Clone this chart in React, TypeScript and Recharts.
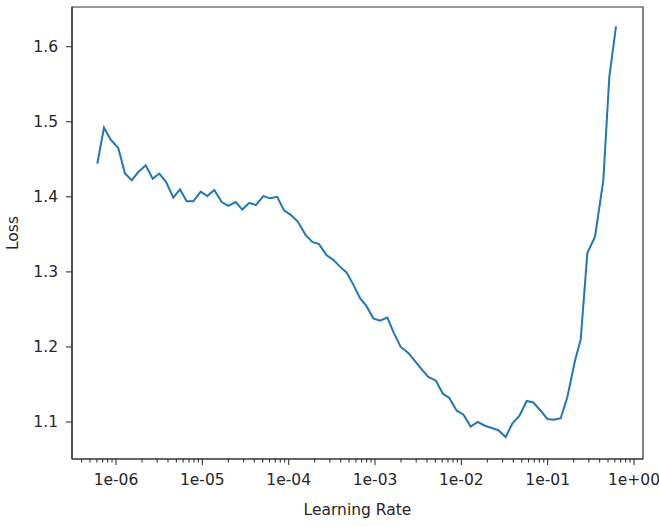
import React from 'react';
import { LineChart, Line, XAxis, YAxis, Label, ReferenceArea } from 'recharts';

// learning rates
const lrValues = [
  6.07e-7, 7.26e-7, 8.68e-7, 1.063e-6, 1.271e-6, 1.52e-6, 1.813e-6, 2.208e-6, 2.661e-6, 3.174e-6,
  3.795e-6, 4.61e-6, 5.51e-6, 6.59e-6, 7.86e-6, 9.57e-6, 1.142e-5, 1.376e-5, 1.676e-5, 2.0e-5,
  2.435e-5, 2.904e-5, 3.5e-5, 4.184e-5, 5.085e-5, 6.08e-5, 7.38e-5, 8.83e-5, 1.056e-4, 1.273e-4,
  1.576e-4, 1.878e-4, 2.246e-4, 2.758e-4, 3.29e-4, 3.93e-4, 4.7e-4, 5.61e-4, 6.71e-4, 8.02e-4,
  9.56e-4, 1.143e-3, 1.389e-3, 1.661e-3, 1.986e-3, 2.43e-3, 2.907e-3, 3.476e-3, 4.146e-3, 5.09e-3,
  6.08e-3, 7.26e-3, 8.84e-3, 1.054e-2, 1.284e-2, 1.548e-2, 1.881e-2, 2.248e-2, 2.682e-2, 3.266e-2,
  3.895e-2, 4.695e-2, 5.72e-2, 6.82e-2, 8.31e-2, 9.91e-2, 0.1185, 0.1416, 0.1689, 0.2074,
  0.2414, 0.2879, 0.3535, 0.441, 0.5178, 0.619,
];

const lossValues = [
  1.444, 1.492, 1.476, 1.465, 1.431, 1.422, 1.433, 1.442, 1.424, 1.431,
  1.42, 1.399, 1.41, 1.394, 1.394, 1.407, 1.401, 1.409, 1.393, 1.388,
  1.393, 1.383, 1.392, 1.389, 1.401, 1.398, 1.4, 1.382, 1.376, 1.367,
  1.349, 1.34, 1.337, 1.322, 1.316, 1.307, 1.299, 1.283, 1.265, 1.254,
  1.238, 1.235, 1.239, 1.218, 1.2, 1.192, 1.181, 1.17, 1.16, 1.155,
  1.138, 1.132, 1.115, 1.11, 1.094, 1.1, 1.095, 1.092, 1.089, 1.08,
  1.098, 1.108, 1.128, 1.126, 1.115, 1.104, 1.103, 1.105, 1.133, 1.182,
  1.21, 1.325, 1.347, 1.422, 1.56, 1.627,
];

const majorTicks = [1e-6, 1e-5, 1e-4, 1e-3, 1e-2, 1e-1, 1];
const majorLabels = ['1e-06', '1e-05', '1e-04', '1e-03', '1e-02', '1e-01', '1e+00'];
const minorMultiples = [2, 3, 4, 5, 6, 7, 8, 9];
const yTicks = [1.1, 1.2, 1.3, 1.4, 1.5, 1.6];

const data = lrValues.map((lr, i) => ({ lr, loss: lossValues[i] }));

const xDomain = [3.093e-7, 1.271];
const yDomain = [1.0507, 1.6529];

// minor ticks: 2..9 x each decade that falls inside the axis range
const minorTicks: number[] = [];
[1e-7, ...majorTicks].forEach((d) => {
  minorMultiples.forEach((m) => {
    const v = d * m;
    if (v >= xDomain[0] && v <= xDomain[1]) minorTicks.push(v);
  });
});
const allXTicks = [...majorTicks, ...minorTicks].sort((a, b) => a - b);

const FONT = '"DejaVu Sans", sans-serif';
const INK = '#262626';
const SPINE = '#333';
const X_TICK_SIZE = 7;
const X_TICK_MARGIN = 8;

const XTick = (props: any) => {
  const { x, y, payload } = props;
  const axisY = y - X_TICK_SIZE - X_TICK_MARGIN;
  const idx = majorTicks.findIndex((t) => Math.abs(Math.log10(t) - Math.log10(payload.value)) < 1e-6);
  const major = idx >= 0;
  return (
    <g>
      <line x1={x} x2={x} y1={axisY} y2={axisY + (major ? 6 : 3.5)} stroke={SPINE} strokeWidth={1.1} />
      {major && (
        <text x={x} y={y} dy="0.71em" textAnchor="middle" fill={INK} fontSize={15.5} fontFamily={FONT}>
          {majorLabels[idx]}
        </text>
      )}
    </g>
  );
};

const App: React.FC = () => (
  <div style={{ position: 'absolute', left: 0, top: 0, width: 659, height: 526, background: '#fff' }}>
    <LineChart width={659} height={526} data={data} margin={{ top: 7, right: 16, bottom: 7, left: 12 }}>
      <XAxis
        dataKey="lr"
        type="number"
        scale="log"
        domain={xDomain}
        allowDataOverflow
        ticks={allXTicks}
        interval={0}
        tick={<XTick />}
        tickLine={false}
        tickSize={X_TICK_SIZE}
        tickMargin={X_TICK_MARGIN}
        height={60}
        axisLine={{ stroke: SPINE, strokeWidth: 1.2 }}
      >
        <Label
          value="Learning Rate"
          position="insideBottom"
          offset={4}
          style={{ fill: INK, fontSize: 15.5, fontFamily: FONT }}
        />
      </XAxis>
      <YAxis
        type="number"
        domain={yDomain}
        allowDataOverflow
        ticks={yTicks}
        interval={0}
        width={60}
        tickSize={6}
        tickMargin={8}
        tickFormatter={(v: number) => v.toFixed(1)}
        tick={{ fill: INK, fontSize: 15.5, fontFamily: FONT }}
        tickLine={{ stroke: SPINE, strokeWidth: 1.1 }}
        axisLine={{ stroke: SPINE, strokeWidth: 1.2 }}
      >
        <Label
          value="Loss"
          angle={-90}
          position="insideLeft"
          offset={0}
          style={{ fill: INK, fontSize: 15.5, fontFamily: FONT, textAnchor: 'middle' }}
        />
      </YAxis>
      {/* frame: top and right spines */}
      <ReferenceArea
        x1={xDomain[0]}
        x2={xDomain[1]}
        y1={yDomain[0]}
        y2={yDomain[1]}
        fill="none"
        fillOpacity={0}
        stroke={SPINE}
        strokeWidth={1.2}
        ifOverflow="visible"
      />
      <Line
        type="linear"
        dataKey="loss"
        stroke="#1f77b4"
        strokeWidth={2}
        dot={false}
        isAnimationActive={false}
      />
    </LineChart>
  </div>
);

export default App;
